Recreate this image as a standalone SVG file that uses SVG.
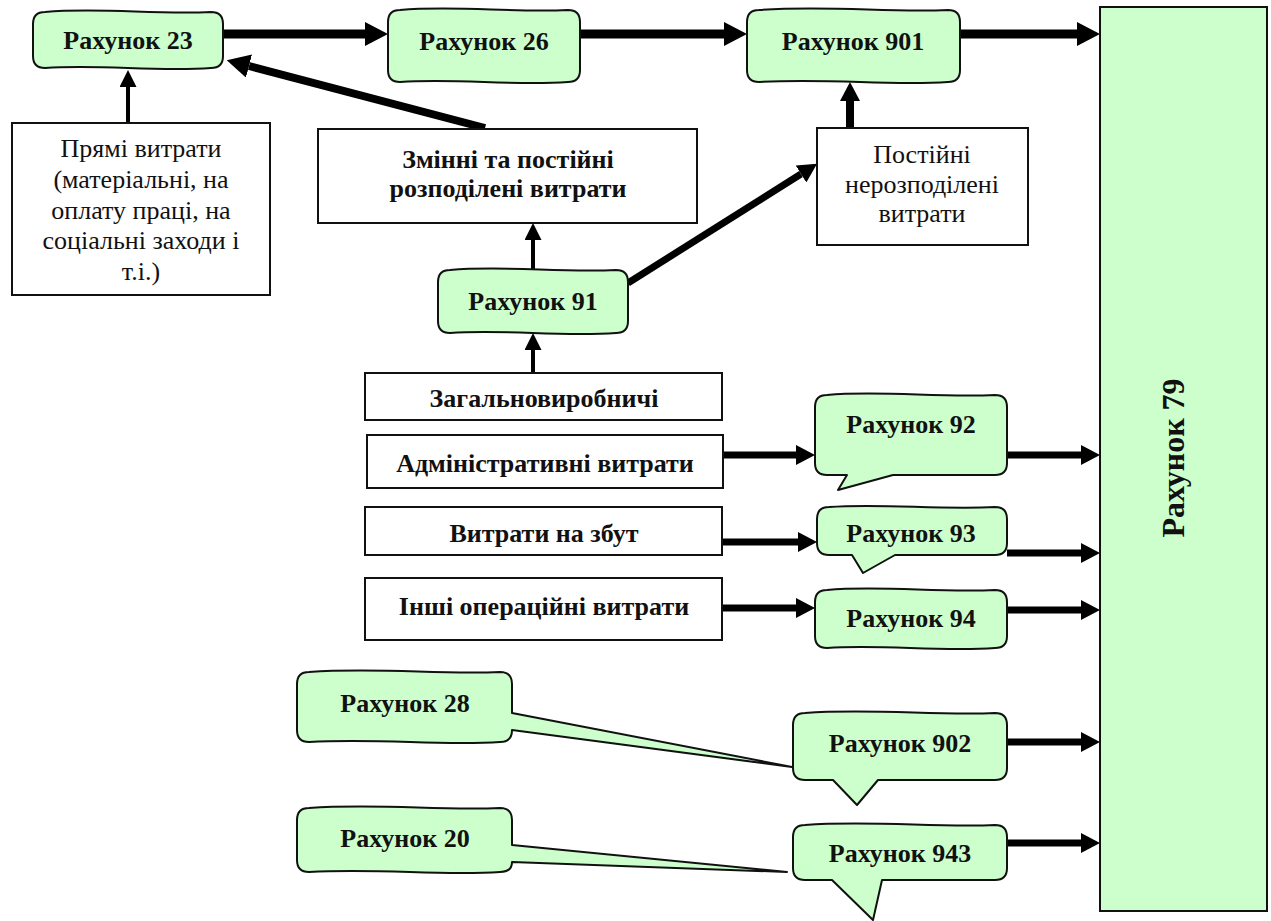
<svg xmlns="http://www.w3.org/2000/svg" width="1271" height="921" viewBox="0 0 1271 921">
<style>
.box{fill:#fff;stroke:#111;stroke-width:2}
.acc{fill:#ccffcc;stroke:#111;stroke-width:2;stroke-linejoin:round}
.b{font-family:"Liberation Serif","Times New Roman",serif;font-weight:bold;font-size:26px;fill:#111;text-anchor:middle}
.r{font-family:"Liberation Serif","Times New Roman",serif;font-size:26px;fill:#111;text-anchor:middle}
.c{fill:none;stroke:#000}
</style>
<defs>
<marker id="big" markerUnits="userSpaceOnUse" markerWidth="23" markerHeight="24" viewBox="0 0 23 24" refX="0" refY="12" orient="auto"><path d="M0,0 L23,12 L0,24 Z" fill="#000"/></marker>
<marker id="mid" markerUnits="userSpaceOnUse" markerWidth="19" markerHeight="20" viewBox="0 0 19 20" refX="0" refY="10" orient="auto"><path d="M0,0 L19,10 L0,20 Z" fill="#000"/></marker>
<marker id="small" markerUnits="userSpaceOnUse" markerWidth="17" markerHeight="17" viewBox="0 0 17 17" refX="0" refY="8.5" orient="auto"><path d="M0,0 L17,8.5 L0,17 Z" fill="#000"/></marker>
</defs>
<rect width="1271" height="921" fill="#fff"/>

<g id="connectors">
<line class="c" x1="223" y1="34" x2="365" y2="34" stroke-width="9" marker-end="url(#big)"/>
<line class="c" x1="580" y1="34" x2="724" y2="34" stroke-width="9" marker-end="url(#big)"/>
<line class="c" x1="960" y1="34" x2="1077" y2="34" stroke-width="9" marker-end="url(#big)"/>
<line class="c" x1="485" y1="128" x2="249" y2="66" stroke-width="8" marker-end="url(#big)"/>
<line class="c" x1="128" y1="123" x2="128" y2="87" stroke-width="4" marker-end="url(#small)"/>
<line class="c" x1="533" y1="270" x2="533" y2="240" stroke-width="4" marker-end="url(#small)"/>
<line class="c" x1="533" y1="373" x2="533" y2="350" stroke-width="4" marker-end="url(#small)"/>
<line class="c" x1="850" y1="128" x2="850" y2="101" stroke-width="8" marker-end="url(#mid)"/>
<line class="c" x1="628" y1="283" x2="801" y2="174" stroke-width="7" marker-end="url(#mid)"/>
<line class="c" x1="723" y1="455" x2="796" y2="455" stroke-width="7" marker-end="url(#mid)"/>
<line class="c" x1="722" y1="542" x2="798" y2="542" stroke-width="7" marker-end="url(#mid)"/>
<line class="c" x1="722" y1="608" x2="796" y2="608" stroke-width="7" marker-end="url(#mid)"/>
<line class="c" x1="1007" y1="455" x2="1081" y2="455" stroke-width="7" marker-end="url(#mid)"/>
<line class="c" x1="1007" y1="553" x2="1081" y2="553" stroke-width="7" marker-end="url(#mid)"/>
<line class="c" x1="1007" y1="610" x2="1081" y2="610" stroke-width="7" marker-end="url(#mid)"/>
<line class="c" x1="1007" y1="742" x2="1081" y2="742" stroke-width="7" marker-end="url(#mid)"/>
<line class="c" x1="1007" y1="843" x2="1081" y2="843" stroke-width="7" marker-end="url(#mid)"/>
</g>

<g id="r79">
<rect x="1100" y="7" width="167" height="904" fill="#ccffcc" stroke="#111" stroke-width="2"/>
<text class="b" style="font-size:32px" transform="translate(1184,458) rotate(-90)">Рахунок 79</text>
</g>

<g id="r23">
<path class="acc" d="M45,12 C100,7 156,15 211,12 Q223,12 223,24 L223,56 Q223,68 211,68 C156,72 100,64 45,68 Q33,68 33,56 L33,24 Q33,12 45,12 Z"/>
<text class="b" x="128" y="49">Рахунок 23</text>
</g>
<g id="r26">
<path class="acc" d="M400,10 C456,5 512,13 568,10 Q580,10 580,22 L580,70 Q580,82 568,82 C512,86 456,78 400,82 Q388,82 388,70 L388,22 Q388,10 400,10 Z"/>
<text class="b" x="484" y="50">Рахунок 26</text>
</g>
<g id="r901">
<path class="acc" d="M759,10 C830,5 890,13 948,10 Q960,10 960,22 L960,70 Q960,82 948,82 C890,86 830,78 759,82 Q747,82 747,70 L747,22 Q747,10 759,10 Z"/>
<text class="b" x="853" y="50">Рахунок 901</text>
</g>

<g id="direct">
<rect class="box" x="12" y="123" width="258" height="172"/>
<text class="r" x="141" y="157">Прямі витрати</text>
<text class="r" x="141" y="188">(матеріальні, на</text>
<text class="r" x="141" y="219">оплату праці, на</text>
<text class="r" x="141" y="249">соціальні заходи і</text>
<text class="r" x="141" y="280">т.і.)</text>
</g>
<g id="distributed">
<rect class="box" x="318" y="129" width="379" height="94"/>
<text class="b" x="508" y="168">Змінні та постійні</text>
<text class="b" x="508" y="197">розподілені витрати</text>
</g>
<g id="undistributed">
<rect class="box" x="817" y="128" width="211" height="117"/>
<text class="r" x="922" y="163">Постійні</text>
<text class="r" x="922" y="193">нерозподілені</text>
<text class="r" x="922" y="222">витрати</text>
</g>

<g id="r91">
<path class="acc" d="M450,270 C505,265 560,273 616,270 Q628,270 628,282 L628,321 Q628,333 616,333 C560,337 505,329 450,333 Q438,333 438,321 L438,282 Q438,270 450,270 Z"/>
<text class="b" x="533" y="310">Рахунок 91</text>
</g>

<g id="general">
<rect class="box" x="365" y="373" width="357" height="47"/>
<text class="b" x="544" y="407">Загальновиробничі</text>
</g>
<g id="admin">
<rect class="box" x="367" y="435" width="356" height="53"/>
<text class="b" x="545" y="472">Адміністративні витрати</text>
</g>
<g id="sales">
<rect class="box" x="365" y="507" width="357" height="48"/>
<text class="b" x="544" y="542">Витрати на збут</text>
</g>
<g id="other">
<rect class="box" x="365" y="578" width="357" height="62"/>
<text class="b" x="544" y="615">Інші операційні витрати</text>
</g>

<g id="r92">
<path class="acc" d="M827,395 C880,390 940,398 995,395 Q1007,395 1007,407 L1007,463 Q1007,475 995,475 L893,475 L838,490 L847,475 L827,475 Q815,475 815,463 L815,407 Q815,395 827,395 Z"/>
<text class="b" x="911" y="433">Рахунок 92</text>
</g>
<g id="r93">
<path class="acc" d="M829,507 C880,503 940,510 995,507 Q1007,507 1007,519 L1007,543 Q1007,555 995,555 L895,555 L863,573 L852,555 L829,555 Q817,555 817,543 L817,519 Q817,507 829,507 Z"/>
<text class="b" x="911" y="542">Рахунок 93</text>
</g>
<g id="r94">
<path class="acc" d="M827,590 C880,585 940,593 995,590 Q1007,590 1007,602 L1007,636 Q1007,648 995,648 C940,652 880,644 827,648 Q815,648 815,636 L815,602 Q815,590 827,590 Z"/>
<text class="b" x="911" y="627">Рахунок 94</text>
</g>

<g id="r902">
<path class="acc" d="M805,713 C870,708 940,716 995,713 Q1007,713 1007,725 L1007,768 Q1007,780 995,780 L878,780 L857,805 L833,780 L805,780 Q793,780 793,768 L793,725 Q793,713 805,713 Z"/>
<text class="b" x="900" y="752">Рахунок 902</text>
</g>
<g id="r943">
<path class="acc" d="M805,825 C870,820 940,828 995,825 Q1007,825 1007,837 L1007,868 Q1007,880 995,880 L882,880 L873,920 L832,880 L805,880 Q793,880 793,868 L793,837 Q793,825 805,825 Z"/>
<text class="b" x="900" y="862">Рахунок 943</text>
</g>

<g id="r28">
<path class="acc" d="M309,672 C380,667 440,675 500,672 Q512,672 512,684 L512,713 L792,767 L512,730 Q512,742 500,742 C440,746 380,738 309,742 Q297,742 297,730 L297,684 Q297,672 309,672 Z"/>
<text class="b" x="405" y="712">Рахунок 28</text>
</g>
<g id="r20">
<path class="acc" d="M309,808 C380,803 440,811 500,808 Q512,808 512,820 L512,845 L787,872 L512,862 Q512,872 500,872 C440,876 380,868 309,872 Q297,872 297,860 L297,820 Q297,808 309,808 Z"/>
<text class="b" x="405" y="847">Рахунок 20</text>
</g>
</svg>
